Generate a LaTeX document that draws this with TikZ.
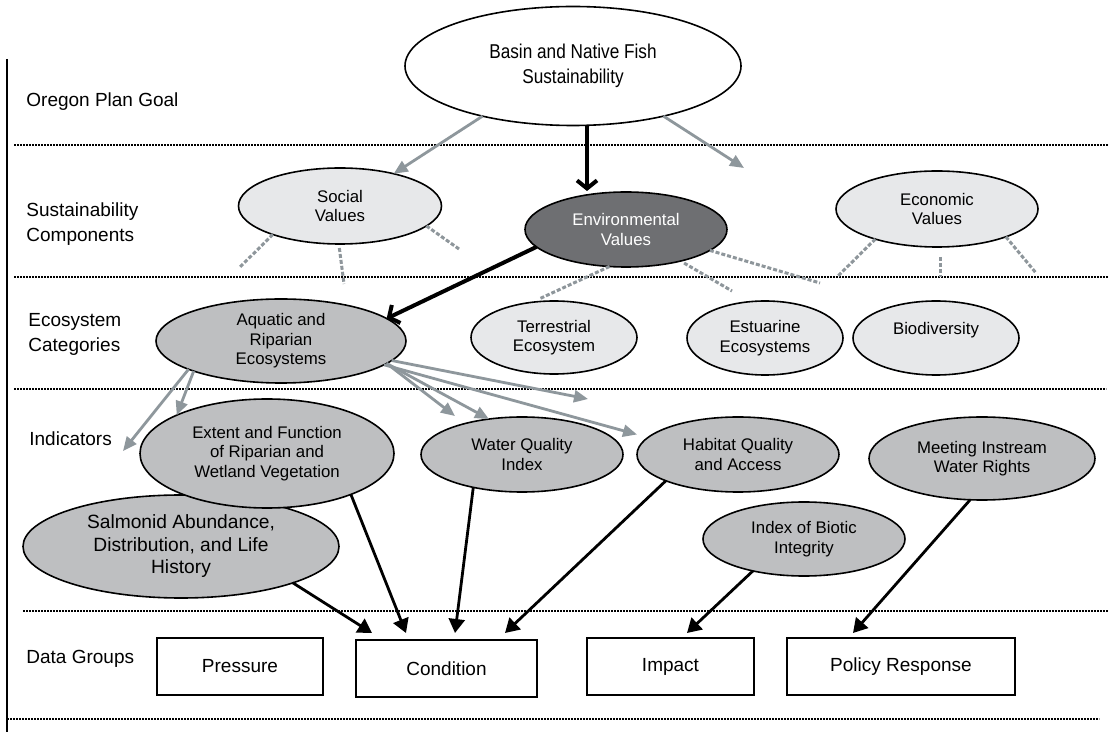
\documentclass[tikz,border=0pt]{standalone}
\usepackage{fontspec}
\setmainfont{Liberation Sans}
\newfontfamily\narrowsans[FakeStretch=0.86]{Liberation Sans}
\usetikzlibrary{positioning,shapes.geometric,arrows.meta}

\definecolor{lightfill}{HTML}{E7E8EA}
\definecolor{midfill}{HTML}{BEBFC1}
\definecolor{darkfill}{HTML}{6E6F72}
\definecolor{arrowgrey}{HTML}{8E979C}
\definecolor{stubgrey}{HTML}{8E969B}

\begin{document}
\begin{tikzpicture}[
        x=0.5pt, y=-0.5pt,
        ell/.style = {ellipse, draw=black, line width=0.8pt, inner sep=0pt, outer sep=0pt,
            align=center, font=\fontsize{8.4}{9.75}\selectfont},
        lightell/.style = {ell, fill=lightfill},
        midell/.style = {ell, fill=midfill},
        darkell/.style = {ell, fill=darkfill, text=white},
        databox/.style = {rectangle, draw=black, line width=1pt, inner sep=0pt, outer sep=0pt,
            minimum height=28.5pt, font=\fontsize{9.5}{11}\selectfont},
        rowlabel/.style = {anchor=west, align=left, inner sep=0pt, font=\fontsize{9.5}{12.5}\selectfont},
        separator/.style = {line width=1.2pt, dash pattern=on 0.8pt off 0.7pt},
        greyarrow/.style = {draw=arrowgrey, line width=1.4pt, -{Triangle[length=7pt,width=6pt]}},
        blackarrow/.style = {draw=black, line width=1.4pt, -{Triangle[length=7pt,width=8pt]}},
        barbarrow/.style = {draw=black, line width=2pt, -{Straight Barb[length=4pt,width=10pt]}},
        stub/.style = {draw=stubgrey, line width=1.5pt, dash pattern=on 2pt off 1pt}]

        \fill[white] (0,0) rectangle (1109,732);
        \useasboundingbox (0,0) rectangle (1109,732);

        % FRAME
        \draw[line width=1.2pt] (7,59) -- (7,732);
        \draw[separator] (14,145) -- (1109,145);
        \draw[separator] (14,277) -- (1109,277);
        \draw[separator] (14,389) -- (1106,389);
        \draw[separator] (23,611) -- (1109,611);
        \draw[separator] (7,719) -- (1099,719);

        % ROW LABELS
        \node[rowlabel] (lblGoal) at (26,102) {Oregon Plan Goal};
        \node[rowlabel] (lblComp) at (26,224.5) {Sustainability\\Components};
        \node[rowlabel] (lblEco) at (28,334) {Ecosystem\\Categories};
        \node[rowlabel] (lblInd) at (29,439) {Indicators};
        \node[rowlabel] (lblData) at (26,659) {Data Groups};

        % NODES
        % goal
        \node[ell, fill=white, minimum width=168pt, minimum height=59.5pt,
            font=\narrowsans\fontsize{10}{12.5}\selectfont] (goal) at (573,66)
            {Basin and Native Fish\\Sustainability};

        % components
        \node[lightell, minimum width=101.5pt, minimum height=38pt] (social) at (340,206) {Social\\Values};
        \node[darkell, minimum width=101pt, minimum height=37.5pt] (env) at (626,229.5) {Environmental\\Values};
        \node[lightell, minimum width=101pt, minimum height=38pt] (econ) at (937,209) {Economic\\Values};

        % categories
        \node[midell, minimum width=125pt, minimum height=42pt] (aquatic) at (281,341) {Aquatic and\\Riparian\\Ecosystems};
        \node[lightell, minimum width=83pt, minimum height=36.5pt] (terr) at (554,337.5) {Terrestrial\\Ecosystem};
        \node[lightell, minimum width=78pt, minimum height=37pt] (estuary) at (765,338) {Estuarine\\Ecosystems};
        \node[lightell, minimum width=83pt, minimum height=37pt] (biodiv) at (936,338) {Biodiversity\\\mbox{}};

        % indicators
        \node[midell, minimum width=158pt, minimum height=51.5pt,
            font=\fontsize{9.6}{11.25}\selectfont] (salmon) at (181,546.5)
            {Salmonid Abundance,\\Distribution, and Life\\History};
        \node[midell, minimum width=127pt, minimum height=54.5pt] (extent) at (267,453.5)
            {Extent and Function\\of Riparian and\\Wetland Vegetation};
        \node[midell, minimum width=101pt, minimum height=37.5pt] (wqi) at (522,454.5) {Water Quality\\Index};
        \node[midell, minimum width=101pt, minimum height=37.5pt] (habitat) at (738,454.5) {Habitat Quality\\and Access};
        \node[midell, minimum width=113pt, minimum height=41.5pt] (instream) at (982,458.5) {Meeting Instream\\Water Rights};
        \node[midell, minimum width=101pt, minimum height=37pt] (ibi) at (804,539) {Index of Biotic\\Integrity};

        % data groups
        \node[databox, minimum width=83pt] (pressure) at (240,666.5) {Pressure};
        \node[databox, minimum width=90.5pt, right=16.5pt of pressure, yshift=-1pt] (condition) {Condition};
        \node[databox, minimum width=83.5pt, right=25pt of condition, yshift=1pt] (impact) {Impact};
        \node[databox, minimum width=114pt, right=16.5pt of impact] (policy) {Policy Response};

        % free ends
        \coordinate (econ_tip) at (744,168);
        \coordinate (s_stub1) at (239,268);
        \coordinate (s_stub2) at (344,284);
        \coordinate (s_stub3) at (459,249);
        \coordinate (e_stub2) at (732,291);
        \coordinate (e_stub3) at (820,283);
        \coordinate (c_stub1) at (837,277);
        \coordinate (c_stub2) at (940,277);
        \coordinate (c_stub3) at (1036,273);
        \coordinate (ind_tip) at (123,451);
        \coordinate (wq_tip) at (455,416);
        \coordinate (fan_tip) at (588,399);

        % ARROWS
        % goal to components
        \draw[greyarrow] (goal.-151.5) -- (social.31);
        \draw[barbarrow] ([xshift=7pt]goal.south) -- ([xshift=-19.5pt,yshift=0.5pt]env.north);
        \draw[greyarrow] (goal.-29) -- (econ_tip);

        % component stubs
        \draw[stub] (social.-157.5) -- (s_stub1);
        \draw[stub] ([yshift=-2pt]social.-91) -- (s_stub2);
        \draw[stub] (social.-13.6) -- (s_stub3);
        \draw[stub] (env.-114) -- ([xshift=-7.5pt,yshift=1pt]terr.north);
        \draw[stub, shorten <=2pt] (env.-30) -- (e_stub2);
        \draw[stub] (env.-14.3) -- (e_stub3);
        \draw[stub] (econ.-154.5) -- (c_stub1);
        \draw[stub] ([xshift=1.5pt,yshift=-5pt]econ.south) -- (c_stub2);
        \draw[stub] (econ.-22.4) -- (c_stub3);

        % environment to aquatic
        \draw[barbarrow] (env.-169.7) -- (aquatic.12);

        % aquatic to indicators
        \draw[greyarrow] (aquatic.-163) -- (ind_tip);
        \draw[greyarrow] (aquatic.-161) -- (extent.157);
        \draw[greyarrow] (aquatic.-12) -- (wq_tip);
        \draw[greyarrow] (aquatic.-12) -- (wqi.133);
        \draw[greyarrow] (aquatic.-10) -- (fan_tip);
        \draw[greyarrow] (aquatic.-13) -- ([yshift=10pt]habitat.west);

        % indicators to data groups
        \draw[blackarrow] (salmon.-18) -- ([xshift=8pt,yshift=3.5pt]condition.north west);
        \draw[blackarrow] (extent.-26) -- ([xshift=25pt,yshift=3.5pt]condition.north west);
        \draw[blackarrow] (wqi.-146.4) -- ([xshift=49.5pt,yshift=3.5pt]condition.north west);
        \draw[blackarrow] (habitat.-160) -- ([xshift=74.5pt,yshift=3.5pt]condition.north west);
        \draw[blackarrow] (ibi.-148) -- ([xshift=50pt,yshift=2.5pt]impact.north west);
        \draw[blackarrow] (instream.-106) -- ([xshift=33pt,yshift=2.5pt]policy.north west);
\end{tikzpicture}
\end{document}
